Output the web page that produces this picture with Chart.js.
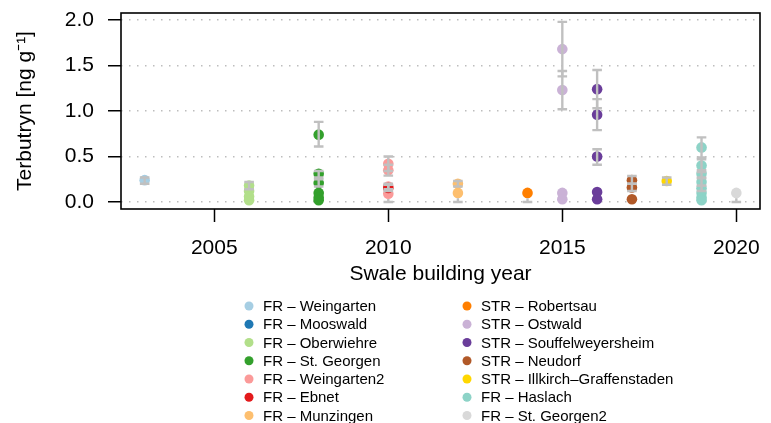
<!DOCTYPE html>
<html><head><meta charset="utf-8">
<script src="https://cdn.jsdelivr.net/npm/chart.js@4/dist/chart.umd.min.js"></script>
<style>html,body{margin:0;padding:0;background:#fff;} canvas{display:block;}</style>
</head><body>
<canvas id="c" width="771" height="423"></canvas>
<script>
const seriesNames = [
  'FR \u2013 Weingarten', 'FR \u2013 Mooswald', 'FR \u2013 Oberwiehre', 'FR \u2013 St. Georgen',
  'FR \u2013 Weingarten2', 'FR \u2013 Ebnet', 'FR \u2013 Munzingen',
  'STR \u2013 Robertsau', 'STR \u2013 Ostwald', 'STR \u2013 Souffelweyersheim', 'STR \u2013 Neudorf',
  'STR \u2013 Illkirch\u2013Graffenstaden', 'FR \u2013 Haslach', 'FR \u2013 St. Georgen2'
];
const seriesYears = [2003, 2003, 2006, 2008, 2010, 2010, 2012, 2014, 2015, 2016, 2017, 2018, 2019, 2020];
const seriesValues = [
  [0.24], [], [0.18, 0.12, 0.06, 0.02], [0.74, 0.31, 0.21, 0.10, 0.05, 0.02],
  [0.42, 0.35, 0.17, 0.09], [0.155], [0.20, 0.10],
  [0.10], [1.68, 1.23, 0.10, 0.03], [1.24, 0.96, 0.50, 0.11, 0.03], [0.24, 0.16, 0.03],
  [0.23], [0.60, 0.40, 0.31, 0.22, 0.15, 0.10, 0.05, 0.02], [0.10]
];
const seriesLow = [
  [0.20], [], [0.14, null, null, null], [0.61, 0.27, 0.17, null, null, null],
  [0.34, 0.29, 0.14, 0.0], [0.12], [0.17, 0.0],
  [0.0], [1.38, 1.02, null, null], [1.03, 0.79, 0.41, null, null], [0.20, 0.12, null],
  [0.19], [0.49, 0.33, 0.27, 0.18, 0.12, null, null, null], [0.0]
];
const seriesHigh = [
  [0.27], [], [0.22, null, null, null], [0.88, 0.34, 0.25, null, null, null],
  [0.50, 0.41, 0.20, null], [0.19], [0.23, null],
  [null], [1.98, 1.44, null, null], [1.45, 1.13, 0.58, null, null], [0.285, 0.20, null],
  [0.27], [0.71, 0.47, 0.35, 0.26, 0.18, null, null, null], [null]
];
const seriesColors = ['#a6cee3', '#1f78b4', '#b2df8a', '#33a02c', '#fb9a99', '#e31a1c', '#fdbf6f',
  '#ff7f00', '#cab2d6', '#6a3d9a', '#b15928', '#ffd700', '#8dd3c7', '#d9d9d9'];
const xTickValues = [2005, 2010, 2015, 2020];
const yTickValues = [0, 0.5, 1.0, 1.5, 2.0];

const FONT = '"Liberation Sans", Arial, sans-serif';

const datasets = seriesNames.map((name, i) => ({
  label: name,
  data: seriesValues[i].map(v => ({x: seriesYears[i], y: v})),
  low: seriesLow[i],
  high: seriesHigh[i],
  order: -i,
  backgroundColor: seriesColors[i],
  borderColor: seriesColors[i],
  borderWidth: 0,
  pointRadius: 5.3,
  pointHoverRadius: 5.3
}));

const errorBars = {
  id: 'errorBars',
  afterDatasetsDraw(chart) {
    const ctx = chart.ctx, xs = chart.scales.x, ys = chart.scales.y, a = chart.chartArea;
    ctx.save();
    ctx.beginPath(); ctx.rect(a.left, a.top, a.right - a.left, a.bottom - a.top); ctx.clip();
    ctx.strokeStyle = '#c0c0c0'; ctx.lineWidth = 2.4;
    const r = 5.3;
    chart.data.datasets.forEach(ds => {
      ds.data.forEach((p, j) => {
        const lo = ds.low[j], hi = ds.high[j];
        if (lo == null) return;
        const px = xs.getPixelForValue(p.x);
        const yl = ys.getPixelForValue(lo);
        ctx.beginPath();
        if (hi != null) {
          const yh = ys.getPixelForValue(hi);
          ctx.moveTo(px, yl); ctx.lineTo(px, yh);
          ctx.moveTo(px - 4.8, yh); ctx.lineTo(px + 4.8, yh);
        } else {
          const yc = ys.getPixelForValue(p.y) + r;
          ctx.moveTo(px, yl); ctx.lineTo(px, yc);
        }
        ctx.moveTo(px - 4.8, yl); ctx.lineTo(px + 4.8, yl);
        ctx.stroke();
      });
    });
    ctx.restore();
  }
};

const boxAndLegend = {
  id: 'boxAndLegend',
  afterDraw(chart) {
    const ctx = chart.ctx, a = chart.chartArea;
    ctx.save();
    ctx.strokeStyle = '#000'; ctx.lineWidth = 1.6;
    ctx.strokeRect(a.left, a.top, a.right - a.left, a.bottom - a.top);
    ctx.font = '15px ' + FONT;
    ctx.textBaseline = 'middle'; ctx.textAlign = 'left';
    const colX = [249, 467], y0 = 306, dy = 18.25;
    chart.data.datasets.forEach((ds, i) => {
      const col = i < 7 ? 0 : 1, row = i % 7;
      const cx = colX[col], cy = y0 + row * dy;
      ctx.fillStyle = ds.backgroundColor;
      ctx.beginPath(); ctx.arc(cx, cy, 4.5, 0, Math.PI * 2); ctx.fill();
      ctx.fillStyle = '#000';
      ctx.fillText(ds.label, cx + 14, cy + 1);
    });
    ctx.restore();
  }
};

new Chart(document.getElementById('c'), {
  type: 'scatter',
  data: { datasets },
  plugins: [errorBars, boxAndLegend],
  options: {
    responsive: false,
    animation: false,
    devicePixelRatio: 1,
    layout: { padding: { left: 0, top: 13, right: 11, bottom: 134 } },
    plugins: { legend: { display: false }, tooltip: { enabled: false } },
    scales: {
      x: {
        type: 'linear', min: 2002.32, max: 2020.68,
        afterBuildTicks: s => { s.ticks = xTickValues.map(v => ({value: v})); },
        afterFit: s => { s.height = 80; s.paddingLeft = 0; s.paddingRight = 0; },
        ticks: { color: '#000', font: { family: FONT, size: 21 }, padding: 14, maxRotation: 0,
                 callback: v => String(v) },
        grid: { drawOnChartArea: false, drawTicks: true, tickLength: 13, tickColor: '#000', tickWidth: 1.5 },
        border: { display: false },
        title: { display: true, text: 'Swale building year', color: '#000',
                 font: { family: FONT, size: 21 }, padding: { top: 0, bottom: 2 } }
      },
      y: {
        type: 'linear', min: -0.077, max: 2.077,
        afterBuildTicks: s => { s.ticks = yTickValues.map(v => ({value: v})); },
        afterFit: s => { s.width = 121; s.paddingTop = 0; s.paddingBottom = 0; },
        ticks: { color: '#000', font: { family: FONT, size: 21 }, padding: 14,
                 callback: v => Number(v).toFixed(1) },
        grid: { color: '#bdbdbd', lineWidth: 1.5, drawTicks: true, tickLength: 13,
                tickColor: '#000', tickWidth: 1.5, tickBorderDash: [] },
        border: { display: false, dash: [1.5, 6.5] },
        title: { display: true, text: 'Terbutryn [ng g\u207B\u00B9]', color: '#000',
                 font: { family: FONT, size: 21 }, padding: { top: 13, bottom: 0 } }
      }
    }
  }
});
</script>
</body></html>
